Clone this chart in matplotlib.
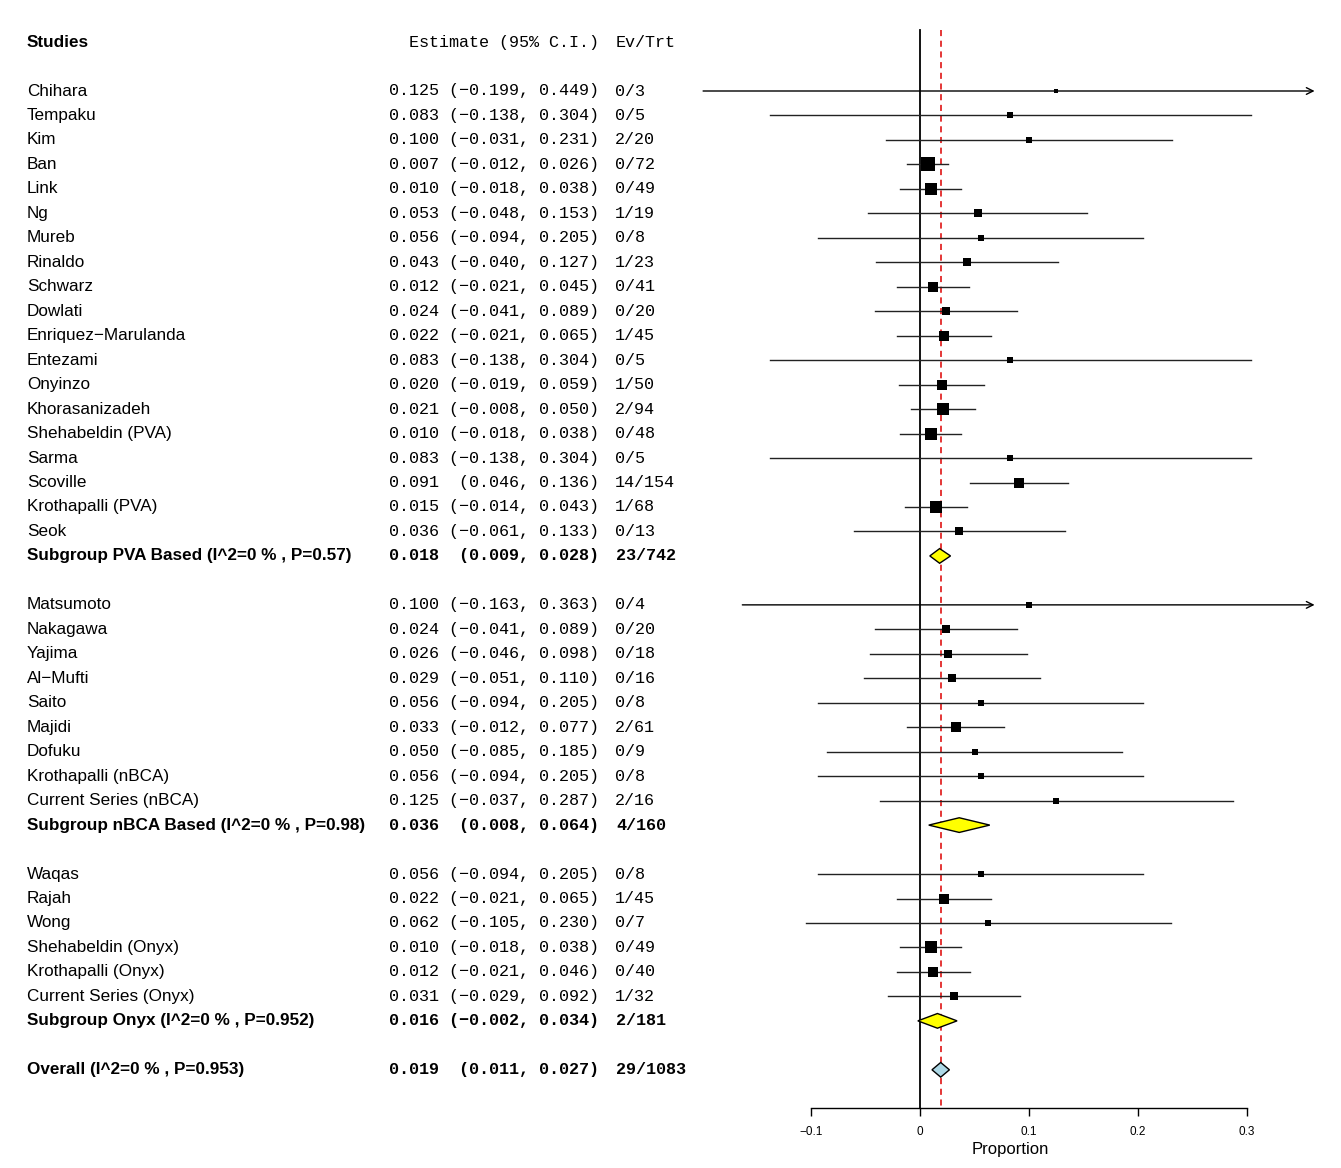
import numpy as np
import matplotlib.pyplot as plt
from matplotlib.patches import Polygon

# ---- data ----
pva_names = ["Chihara", "Tempaku", "Kim", "Ban", "Link", "Ng", "Mureb", "Rinaldo",
             "Schwarz", "Dowlati", "Enriquez−Marulanda", "Entezami", "Onyinzo",
             "Khorasanizadeh", "Shehabeldin (PVA)", "Sarma", "Scoville",
             "Krothapalli (PVA)", "Seok"]
pva_est = [0.125, 0.083, 0.100, 0.007, 0.010, 0.053, 0.056, 0.043, 0.012, 0.024,
           0.022, 0.083, 0.020, 0.021, 0.010, 0.083, 0.091, 0.015, 0.036]
pva_lo = [-0.199, -0.138, -0.031, -0.012, -0.018, -0.048, -0.094, -0.040, -0.021,
          -0.041, -0.021, -0.138, -0.019, -0.008, -0.018, -0.138, 0.046, -0.014, -0.061]
pva_hi = [0.449, 0.304, 0.231, 0.026, 0.038, 0.153, 0.205, 0.127, 0.045, 0.089,
          0.065, 0.304, 0.059, 0.050, 0.038, 0.304, 0.136, 0.043, 0.133]
pva_ev = [0, 0, 2, 0, 0, 1, 0, 1, 0, 0, 1, 0, 1, 2, 0, 0, 14, 1, 0]
pva_n = [3, 5, 20, 72, 49, 19, 8, 23, 41, 20, 45, 5, 50, 94, 48, 5, 154, 68, 13]

nbca_names = ["Matsumoto", "Nakagawa", "Yajima", "Al−Mufti", "Saito", "Majidi",
              "Dofuku", "Krothapalli (nBCA)", "Current Series (nBCA)"]
nbca_est = [0.100, 0.024, 0.026, 0.029, 0.056, 0.033, 0.050, 0.056, 0.125]
nbca_lo = [-0.163, -0.041, -0.046, -0.051, -0.094, -0.012, -0.085, -0.094, -0.037]
nbca_hi = [0.363, 0.089, 0.098, 0.110, 0.205, 0.077, 0.185, 0.205, 0.287]
nbca_ev = [0, 0, 0, 0, 0, 2, 0, 0, 2]
nbca_n = [4, 20, 18, 16, 8, 61, 9, 8, 16]

onyx_names = ["Waqas", "Rajah", "Wong", "Shehabeldin (Onyx)", "Krothapalli (Onyx)",
              "Current Series (Onyx)"]
onyx_est = [0.056, 0.022, 0.062, 0.010, 0.012, 0.031]
onyx_lo = [-0.094, -0.021, -0.105, -0.018, -0.021, -0.029]
onyx_hi = [0.205, 0.065, 0.230, 0.038, 0.046, 0.092]
onyx_ev = [0, 1, 0, 0, 0, 1]
onyx_n = [8, 45, 7, 49, 40, 32]

sub_labels = ["Subgroup PVA Based (I^2=0 % , P=0.57)",
              "Subgroup nBCA Based (I^2=0 % , P=0.98)",
              "Subgroup Onyx (I^2=0 % , P=0.952)"]
sub_est = [0.018, 0.036, 0.016]
sub_lo = [0.009, 0.008, -0.002]
sub_hi = [0.028, 0.064, 0.034]
sub_ev = [23, 4, 2]
sub_n = [742, 160, 181]

overall_label = "Overall (I^2=0 % , P=0.953)"
overall_est, overall_lo, overall_hi = 0.019, 0.011, 0.027
overall_ev, overall_n = 29, 1083

groups = [
    (pva_names, pva_est, pva_lo, pva_hi, pva_ev, pva_n),
    (nbca_names, nbca_est, nbca_lo, nbca_hi, nbca_ev, nbca_n),
    (onyx_names, onyx_est, onyx_lo, onyx_hi, onyx_ev, onyx_n),
]

# ---- layout (pixel geometry of the reference) ----
W, H = 1341, 1168
pitch = 24.47        # px per row
y_first = 91         # px of first study row
y_axis = 1108        # px of the x axis
px_zero, px_per_unit = 920, 1090
clip_hi = 0.362

SANS = "Liberation Sans"
MONO = "Liberation Mono"
FS = 12.3
FM = 12.1


def fmt_est(e, lo, hi):
    s = f"{e:.3f} " + f"({lo:.3f}, {hi:.3f})".rjust(15)
    return s.replace("-", "−")


fig = plt.figure(figsize=(W / 100, H / 100), dpi=100)
bottom = (H - y_axis) / H
ylim = ((y_axis - y_first) / pitch, (0 - y_first) / pitch)

tax = fig.add_axes([0, bottom, 1, 1 - bottom])
tax.set_xlim(0, W)
tax.set_ylim(*ylim)
tax.axis("off")

fx0, fx1 = 690, 1330
fax = fig.add_axes([fx0 / W, bottom, (fx1 - fx0) / W, 1 - bottom])
fax.set_xlim((fx0 - px_zero) / px_per_unit, (fx1 - px_zero) / px_per_unit)
fax.set_ylim(*ylim)
fax.patch.set_alpha(0)

col_name, col_est, col_ev = 27, 599, 615

# header
tax.text(col_name, -2, "Studies", fontfamily=SANS, fontsize=FS, fontweight="bold", va="center")
tax.text(col_est, -2, "Estimate (95% C.I.)", fontfamily=MONO, fontsize=FM, va="center", ha="right")
tax.text(col_ev + 1, -2, "Ev/Trt", fontfamily=MONO, fontsize=FM, va="center")

# marker sizes from the study precision
all_lo = np.array(pva_lo + nbca_lo + onyx_lo)
all_hi = np.array(pva_hi + nbca_hi + onyx_hi)
w_all = 1 / (all_hi - all_lo)
wmin, wmax = w_all.min(), w_all.max()


def sq_size(lo, hi):
    nw = (1 / (hi - lo) - wmin) / (wmax - wmin)
    return (4.6 + 9.6 * nw ** 0.7) * 0.72


def diamond(ax, y, e, lo, hi, color):
    h = 0.3
    ax.add_patch(Polygon([(lo, y), (e, y - h), (hi, y), (e, y + h)], closed=True,
                         facecolor=color, edgecolor="black", lw=1.0, zorder=4))


row = 0
for gi, (names, est, lo, hi, ev, n) in enumerate(groups):
    for i in range(len(names)):
        tax.text(col_name, row, names[i], fontfamily=SANS, fontsize=FS, va="center")
        tax.text(col_est, row, fmt_est(est[i], lo[i], hi[i]), fontfamily=MONO,
                 fontsize=FM, va="center", ha="right")
        tax.text(col_ev, row, f"{ev[i]}/{n[i]}", fontfamily=MONO, fontsize=FM, va="center")
        if hi[i] > clip_hi:
            fax.annotate("", xy=(clip_hi, row), xytext=(lo[i], row),
                         arrowprops=dict(arrowstyle="->", lw=1.0, color="black",
                                         shrinkA=0, shrinkB=0, mutation_scale=12))
        else:
            fax.plot([lo[i], hi[i]], [row, row], color="#222222", lw=1.0, zorder=2)
        fax.plot(est[i], row, marker="s", color="black", ms=sq_size(lo[i], hi[i]),
                 mew=0, zorder=3)
        row += 1
    tax.text(col_name, row, sub_labels[gi], fontfamily=SANS, fontsize=FS,
             fontweight="bold", va="center")
    tax.text(col_est, row, fmt_est(sub_est[gi], sub_lo[gi], sub_hi[gi]), fontfamily=MONO,
             fontsize=FM, fontweight="bold", va="center", ha="right")
    tax.text(col_ev + 1, row, f"{sub_ev[gi]}/{sub_n[gi]}", fontfamily=MONO, fontsize=FM,
             fontweight="bold", va="center")
    diamond(fax, row, sub_est[gi], sub_lo[gi], sub_hi[gi], "yellow")
    row += 2

# overall
tax.text(col_name, row, overall_label, fontfamily=SANS, fontsize=FS, fontweight="bold", va="center")
tax.text(col_est, row, fmt_est(overall_est, overall_lo, overall_hi), fontfamily=MONO,
         fontsize=FM, fontweight="bold", va="center", ha="right")
tax.text(col_ev + 1, row, f"{overall_ev}/{overall_n}", fontfamily=MONO, fontsize=FM,
         fontweight="bold", va="center")
diamond(fax, row, overall_est, overall_lo, overall_hi, "lightblue")

# reference lines
top = -2.5
fax.plot([0, 0], [top, ylim[0]], color="black", lw=1.3, zorder=1)
fax.plot([overall_est, overall_est], [top, ylim[0]], color="#dd0000", lw=1.1,
         ls=(0, (4, 3)), zorder=1)

# x axis
for s in ["top", "right", "left"]:
    fax.spines[s].set_visible(False)
fax.spines["bottom"].set_bounds(-0.1, 0.3)
fax.spines["bottom"].set_linewidth(1.0)
fax.set_yticks([])
fax.set_xticks([-0.1, 0, 0.1, 0.2, 0.3])
fax.set_xticklabels(["−0.1", "0", "0.1", "0.2", "0.3"], fontfamily=SANS)
fax.tick_params(axis="x", length=6, width=1.0, pad=7, labelsize=8.5)
fax.set_xlabel("Proportion", fontfamily=SANS, fontsize=12, labelpad=3)

fig.savefig("out.png", dpi=100)
